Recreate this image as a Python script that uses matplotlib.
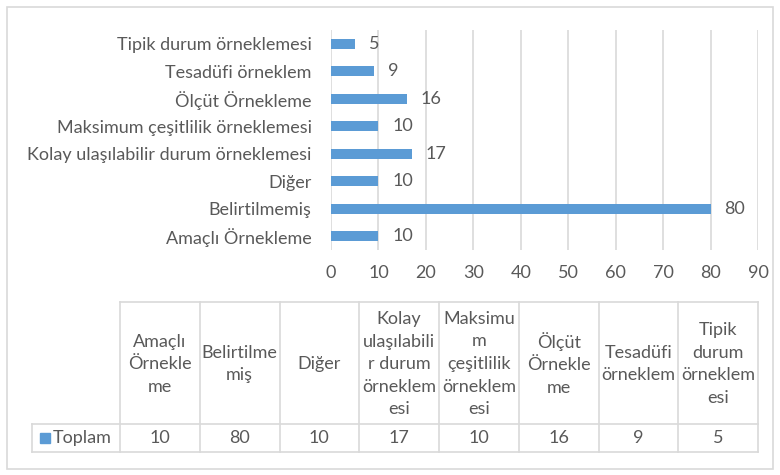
import numpy as np
import matplotlib.pyplot as plt
from matplotlib.patches import Rectangle

plt.rcParams['font.family'] = ['Lato', 'DejaVu Sans']

categories = ["Amaçlı Örnekleme", "Belirtilmemiş", "Diğer",
              "Kolay ulaşılabilir durum örneklemesi", "Maksimum çeşitlilik örneklemesi",
              "Ölçüt Örnekleme", "Tesadüfi örneklem", "Tipik durum örneklemesi"]
values = [10, 80, 10, 17, 10, 16, 9, 5]
table_headers = ["Amaçlı\nÖrnekle\nme", "Belirtilme\nmiş", "Diğer",
                 "Kolay\nulaşılabili\nr durum\nörneklem\nesi",
                 "Maksimu\nm\nçeşitlilik\nörneklem\nesi",
                 "Ölçüt\nÖrnekle\nme", "Tesadüfi\nörneklem", "Tipik\ndurum\nörneklem\nesi"]
series_name = "Toplam"
xticks = list(range(0, 100, 10))

W, H = 780, 475
bar_color = "#5B9BD5"
text_color = "#595959"
grid_color = "#D9D9D9"
fs = 13

fig = plt.figure(figsize=(W / 100, H / 100), dpi=100)

def fx(px):
    return px / W

def fy(py):
    return 1 - py / H

# outer chart border
fig.patches.append(Rectangle((fx(7), fy(469)), fx(766), 462 / H, transform=fig.transFigure,
                             fill=False, edgecolor=grid_color, linewidth=1.2))

ax = fig.add_axes([fx(331), fy(250), fx(758) - fx(331), 220 / H])
y = np.arange(len(categories))
ax.barh(y, values, height=0.38, color=bar_color)
for yi, v in zip(y, values):
    ax.annotate(str(v), (v, yi), xytext=(10, 0), textcoords='offset points',
                va='center', ha='left', fontsize=fs, color=text_color)

ax.set_xlim(0, 90)
ax.set_ylim(-0.5, len(categories) - 0.5)
ax.set_xticks(xticks)
ax.set_yticks(y)
ax.set_yticklabels(categories)
ax.tick_params(axis='both', length=0, labelsize=fs, colors=text_color)
ax.tick_params(axis='y', pad=14)
ax.tick_params(axis='x', pad=11)
ax.grid(axis='x', color=grid_color, linewidth=1.2)
ax.set_axisbelow(True)
for s in ax.spines.values():
    s.set_visible(False)

# data table
col_edges = np.linspace(120, 758, len(categories) + 1)
head_top, row_top, row_bot = 302, 424, 452
line_kw = dict(color=grid_color, linewidth=1.2, transform=fig.transFigure)

fig.add_artist(plt.Line2D([fx(120), fx(758)], [fy(head_top)] * 2, **line_kw))
fig.add_artist(plt.Line2D([fx(32), fx(758)], [fy(row_top)] * 2, **line_kw))
fig.add_artist(plt.Line2D([fx(32), fx(758)], [fy(row_bot)] * 2, **line_kw))
fig.add_artist(plt.Line2D([fx(32), fx(32)], [fy(row_top), fy(row_bot)], **line_kw))
for xe in col_edges:
    fig.add_artist(plt.Line2D([fx(xe), fx(xe)], [fy(head_top), fy(row_bot)], **line_kw))

for i, (hd, v) in enumerate(zip(table_headers, values)):
    cx = (col_edges[i] + col_edges[i + 1]) / 2
    fig.text(fx(cx), fy((head_top + row_top) / 2 + 1), hd, ha='center', va='center',
             fontsize=fs, color=text_color, linespacing=1.5)
    fig.text(fx(cx), fy((row_top + row_bot) / 2), str(v), ha='center', va='center',
             fontsize=fs, color=text_color)

fig.patches.append(Rectangle((fx(40), fy(443)), fx(10), 10 / H, transform=fig.transFigure,
                             color=bar_color))
fig.text(fx(53), fy((row_top + row_bot) / 2), series_name, ha='left', va='center',
         fontsize=fs, color=text_color)

fig.savefig("out.png", dpi=100)
